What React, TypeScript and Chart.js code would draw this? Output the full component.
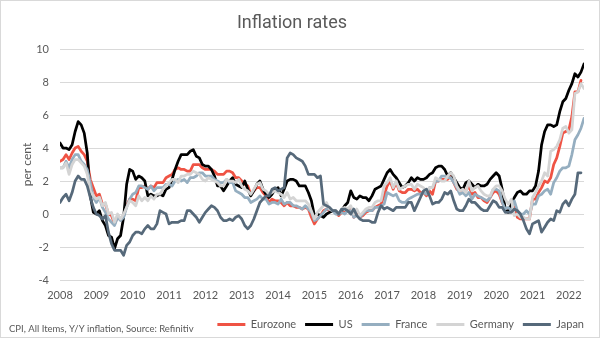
import React, { useEffect, useRef } from "react";
import { Chart, registerables } from "chart.js";

Chart.register(...registerables);

// ---- Data (monthly, Jan 2008 onwards) ----
const yearLabels = ["2008", "2009", "2010", "2011", "2012", "2013", "2014", "2015", "2016", "2017", "2018", "2019", "2020", "2021", "2022"];
const seriesNames = ["Eurozone", "US", "France", "Germany", "Japan"];
const footerText = "CPI, All Items, Y/Y inflation, Source: Refinitiv";

const eurozone = [
  3.2, 3.3, 3.6, 3.3, 3.7, 4.0, 4.1, 3.8, 3.6, 3.2, 2.1, 1.6,
  1.1, 1.2, 0.6, 0.6, 0.0, -0.1, -0.6, -0.2, -0.3, -0.1, 0.5, 0.9,
  0.9, 0.8, 1.6, 1.6, 1.7, 1.5, 1.7, 1.6, 1.9, 1.9, 1.9, 2.2,
  2.3, 2.4, 2.7, 2.8, 2.7, 2.7, 2.6, 2.6, 3.0, 3.0, 3.0, 2.8,
  2.7, 2.7, 2.7, 2.6, 2.4, 2.4, 2.4, 2.6, 2.6, 2.5, 2.2, 2.2,
  2.0, 1.8, 1.7, 1.2, 1.4, 1.6, 1.6, 1.3, 1.1, 0.7, 0.9, 0.8,
  0.8, 0.7, 0.5, 0.7, 0.5, 0.5, 0.4, 0.4, 0.3, 0.4, 0.3, -0.2,
  -0.6, -0.3, -0.1, 0.2, 0.3, 0.2, 0.2, 0.1, -0.1, 0.1, 0.1, 0.2,
  0.3, -0.2, 0.0, -0.2, -0.1, 0.1, 0.2, 0.2, 0.4, 0.5, 0.6, 1.1,
  1.7, 2.0, 1.5, 1.9, 1.4, 1.3, 1.3, 1.5, 1.5, 1.4, 1.5, 1.3,
  1.3, 1.1, 1.4, 1.2, 2.0, 2.0, 2.1, 2.1, 2.1, 2.3, 1.9, 1.5,
  1.4, 1.5, 1.4, 1.7, 1.2, 1.3, 1.0, 1.0, 0.8, 0.7, 1.0, 1.3,
  1.4, 1.2, 0.7, 0.3, 0.1, 0.3, 0.4, -0.2, -0.3, -0.3, -0.3, -0.3,
  0.9, 0.9, 1.3, 1.6, 2.0, 1.9, 2.2, 3.0, 3.4, 4.1, 4.9, 5.0,
  5.1, 5.9, 7.4, 7.4, 8.1,
];

const us = [
  4.3, 4.0, 4.0, 3.9, 4.2, 5.0, 5.6, 5.4, 4.9, 3.7, 1.1, 0.1,
  0.0, 0.2, -0.4, -0.7, -1.3, -1.4, -2.1, -1.5, -1.3, -0.2, 1.8, 2.7,
  2.6, 2.1, 2.3, 2.2, 2.0, 1.1, 1.2, 1.1, 1.1, 1.2, 1.1, 1.5,
  1.6, 2.1, 2.7, 3.2, 3.6, 3.6, 3.6, 3.8, 3.9, 3.5, 3.4, 3.0,
  2.9, 2.9, 2.7, 2.3, 1.7, 1.7, 1.4, 1.7, 2.0, 2.2, 1.8, 1.7,
  1.6, 2.0, 1.5, 1.1, 1.4, 1.8, 2.0, 1.5, 1.2, 1.0, 1.2, 1.5,
  1.6, 1.1, 1.5, 2.0, 2.1, 2.1, 2.0, 1.7, 1.7, 1.7, 1.3, 0.8,
  -0.1, 0.0, -0.1, -0.2, 0.0, 0.1, 0.2, 0.2, 0.0, 0.2, 0.5, 0.7,
  1.4, 1.0, 0.9, 1.1, 1.0, 1.0, 0.8, 1.1, 1.5, 1.6, 1.7, 2.1,
  2.5, 2.7, 2.4, 2.2, 1.9, 1.6, 1.7, 1.9, 2.2, 2.0, 2.2, 2.1,
  2.1, 2.2, 2.4, 2.5, 2.8, 2.9, 2.9, 2.7, 2.3, 2.5, 2.2, 1.9,
  1.6, 1.5, 1.9, 2.0, 1.8, 1.6, 1.8, 1.7, 1.7, 1.8, 2.1, 2.3,
  2.5, 2.3, 1.5, 0.3, 0.1, 0.6, 1.0, 1.3, 1.4, 1.2, 1.2, 1.4,
  1.4, 1.7, 2.6, 4.2, 5.0, 5.4, 5.4, 5.3, 5.4, 6.2, 6.8, 7.0,
  7.5, 7.9, 8.5, 8.3, 8.6, 9.1,
];

const france = [
  2.8, 2.8, 3.2, 2.8, 3.3, 3.6, 3.6, 3.2, 3.0, 2.7, 1.9, 1.0,
  0.7, 1.0, 0.4, 0.1, -0.3, -0.5, -0.7, -0.2, -0.4, -0.2, 0.4, 0.9,
  1.2, 1.3, 1.7, 1.7, 1.6, 1.5, 1.7, 1.4, 1.6, 1.6, 1.6, 1.8,
  1.8, 1.7, 2.0, 2.1, 2.0, 2.1, 1.9, 2.2, 2.2, 2.3, 2.5, 2.5,
  2.3, 2.3, 2.3, 2.1, 2.0, 1.9, 1.9, 2.1, 1.9, 1.9, 1.4, 1.3,
  1.2, 1.0, 1.0, 0.7, 0.8, 0.9, 1.1, 0.9, 0.9, 0.6, 0.7, 0.7,
  0.6, 0.9, 0.6, 0.7, 0.7, 0.5, 0.5, 0.4, 0.3, 0.5, 0.3, 0.1,
  -0.4, -0.3, -0.1, 0.1, 0.3, 0.3, 0.2, 0.0, 0.0, 0.1, 0.0, 0.2,
  0.2, -0.2, -0.1, -0.2, 0.0, 0.2, 0.2, 0.2, 0.4, 0.4, 0.5, 0.6,
  1.3, 1.2, 1.1, 1.2, 0.8, 0.7, 0.7, 0.9, 1.0, 1.1, 1.2, 1.2,
  1.3, 1.2, 1.6, 1.6, 2.0, 2.0, 2.3, 2.3, 2.2, 2.2, 1.9, 1.6,
  1.2, 1.3, 1.1, 1.3, 0.9, 1.2, 1.1, 1.0, 0.9, 0.8, 1.0, 1.5,
  1.5, 1.4, 0.7, 0.3, 0.4, 0.2, 0.8, 0.2, 0.0, 0.0, 0.2, 0.0,
  0.6, 0.6, 1.1, 1.2, 1.4, 1.5, 1.2, 1.9, 2.2, 2.6, 2.8, 2.8,
  2.9, 3.6, 4.5, 4.8, 5.2, 5.8,
];

const germany = [
  2.8, 2.8, 3.1, 2.4, 3.0, 3.3, 3.3, 3.1, 2.9, 2.4, 1.4, 1.1,
  0.9, 1.0, 0.5, 0.7, 0.0, 0.1, -0.5, 0.0, -0.3, 0.0, 0.4, 0.8,
  0.7, 0.5, 1.1, 0.8, 1.0, 0.8, 1.1, 0.9, 1.2, 1.2, 1.5, 1.7,
  1.9, 2.1, 2.1, 1.9, 2.3, 2.3, 2.4, 2.4, 2.6, 2.5, 2.4, 2.1,
  2.0, 2.2, 2.1, 2.0, 1.9, 1.7, 1.7, 2.1, 2.0, 2.0, 1.9, 2.1,
  1.7, 1.5, 1.4, 1.2, 1.5, 1.8, 1.9, 1.5, 1.4, 1.2, 1.3, 1.4,
  1.3, 1.2, 1.0, 1.3, 0.9, 1.0, 0.8, 0.8, 0.8, 0.8, 0.6, 0.2,
  -0.3, 0.1, 0.3, 0.5, 0.7, 0.3, 0.2, 0.2, 0.0, 0.3, 0.4, 0.3,
  0.5, 0.0, 0.3, -0.1, 0.1, 0.3, 0.4, 0.4, 0.7, 0.8, 0.8, 1.7,
  1.9, 2.2, 1.6, 2.0, 1.5, 1.6, 1.7, 1.8, 1.8, 1.5, 1.8, 1.7,
  1.6, 1.4, 1.6, 1.6, 2.2, 2.1, 2.0, 2.0, 2.3, 2.5, 2.3, 1.7,
  1.4, 1.5, 1.3, 2.0, 1.4, 1.6, 1.7, 1.4, 1.2, 1.1, 1.1, 1.5,
  1.7, 1.7, 1.4, 0.9, 0.6, 0.9, -0.1, 0.0, -0.2, -0.2, -0.3, -0.3,
  1.0, 1.3, 1.7, 2.0, 2.5, 2.3, 3.8, 3.9, 4.1, 4.5, 5.2, 5.3,
  4.9, 5.1, 7.3, 7.4, 7.9, 7.6,
];

const japan = [
  0.7, 1.0, 1.2, 0.8, 1.3, 2.0, 2.3, 2.1, 2.1, 1.7, 1.0, 0.4,
  0.0, -0.1, -0.3, -0.1, -1.1, -1.8, -2.2, -2.2, -2.2, -2.5, -1.9, -1.7,
  -1.3, -1.1, -1.1, -1.2, -0.9, -0.7, -0.9, -0.9, -0.6, 0.2, 0.1, 0.0,
  -0.6, -0.5, -0.5, -0.5, -0.4, -0.4, 0.2, 0.2, 0.0, -0.2, -0.5, -0.2,
  0.1, 0.3, 0.5, 0.4, 0.2, -0.2, -0.4, -0.4, -0.3, -0.4, -0.2, -0.1,
  -0.3, -0.7, -0.9, -0.7, -0.3, 0.2, 0.7, 0.9, 1.1, 1.1, 1.5, 1.6,
  1.4, 1.5, 1.6, 3.4, 3.7, 3.6, 3.4, 3.3, 3.2, 2.9, 2.4, 2.4,
  2.4, 2.2, 2.3, 0.6, 0.5, 0.4, 0.2, 0.2, 0.0, 0.3, 0.3, 0.2,
  0.0, 0.3, -0.1, -0.3, -0.4, -0.4, -0.4, -0.5, -0.5, 0.1, 0.5, 0.3,
  0.4, 0.3, 0.2, 0.4, 0.4, 0.4, 0.4, 0.7, 0.7, 0.2, 0.6, 1.0,
  1.4, 1.5, 1.1, 0.6, 0.7, 0.7, 0.9, 1.3, 1.2, 1.4, 0.8, 0.3,
  0.2, 0.2, 0.5, 0.9, 0.7, 0.7, 0.5, 0.3, 0.2, 0.2, 0.5, 0.8,
  0.7, 0.4, 0.4, 0.1, 0.1, 0.1, 0.3, 0.2, 0.0, -0.4, -0.9, -1.2,
  -0.6, -0.5, -0.4, -1.1, -0.8, -0.5, -0.3, -0.4, 0.2, 0.1, 0.6, 0.8,
  0.5, 0.9, 1.2, 2.5, 2.5,
];

const seriesValues = [eurozone, us, france, germany, japan];
const seriesColors = ["#EF5344", "#000000", "#95AEC0", "#D4D4D4", "#56697A"];

const TEXT = "#595959";

export default function App() {
  const canvasRef = useRef<HTMLCanvasElement | null>(null);

  useEffect(() => {
    document.body.style.margin = "0";
    const canvas = canvasRef.current;
    if (!canvas) return;

    const framePlugin = {
      id: "frame",
      beforeDraw(chart: any) {
        const { ctx, width, height } = chart;
        ctx.save();
        ctx.fillStyle = "#ffffff";
        ctx.fillRect(0, 0, width, height);
        ctx.restore();
      },
      afterLayout(chart: any) {
        const lg = chart.legend;
        if (lg) {
          lg.left += 9;
          lg.right += 9;
          lg.top += 2;
          lg.bottom += 2;
        }
      },
      afterDraw(chart: any) {
        const { ctx, width, height } = chart;
        ctx.save();
        ctx.strokeStyle = "#D9D9D9";
        ctx.lineWidth = 1;
        ctx.strokeRect(0.5, 0.5, width - 1, height - 1);
        ctx.fillStyle = TEXT;
        ctx.font = "9.5px Lato";
        ctx.textBaseline = "middle";
        ctx.textAlign = "left";
        ctx.fillText(footerText, 9, 329);
        ctx.restore();
      },
    };

    const chart = new Chart(canvas, {
      type: "line",
      data: {
        datasets: seriesNames.map((name, k) => ({
          label: name,
          data: seriesValues[k].map((v, i) => ({ x: i, y: v })),
          borderColor: seriesColors[k],
          backgroundColor: seriesColors[k],
          borderWidth: 2.75,
          pointRadius: 0,
          tension: 0,
          borderJoinStyle: "round",
          borderCapStyle: "round",
          order: seriesNames.length - k,
        })),
      },
      options: {
        animation: false,
        responsive: false,
        events: [],
        layout: { padding: { left: 0, right: 16, top: 0, bottom: 0 } },
        font: { family: "Lato" },
        plugins: {
          tooltip: { enabled: false },
          title: {
            display: true,
            text: "Inflation rates",
            color: TEXT,
            font: { family: "Roboto", size: 18, weight: "normal" },
            padding: { top: 13, bottom: 14.4 },
          },
          legend: {
            display: true,
            position: "bottom",
            align: "end",
            labels: {
              color: TEXT,
              font: { family: "Lato", size: 11 },
              boxWidth: 28,
              boxHeight: 3,
              padding: 9,
              sort: (a: any, b: any) => a.datasetIndex - b.datasetIndex,
              generateLabels: (ch: any) =>
                (Chart.defaults.plugins.legend.labels as any)
                  .generateLabels(ch)
                  .map((it: any) => ({ ...it, fillStyle: it.strokeStyle, lineWidth: 0 })),
            },
          },
        },
        scales: {
          x: {
            type: "linear",
            min: 0,
            max: 173,
            grid: { display: false, drawTicks: false },
            border: { display: false },
            afterBuildTicks: (scale: any) => {
              scale.ticks = yearLabels.map((_, i) => ({ value: i * 12 }));
            },
            afterFit: (scale: any) => {
              scale.height = 28;
            },
            ticks: {
              autoSkip: false,
              maxRotation: 0,
              padding: 9,
              color: TEXT,
              font: { family: "Lato", size: 11 },
              callback: (v: any) => yearLabels[Math.round(Number(v) / 12)],
            },
          },
          y: {
            min: -4,
            max: 10,
            grid: { color: "#D9D9D9", lineWidth: 1, drawTicks: false },
            border: { display: false },
            afterFit: (scale: any) => {
              scale.width = 60;
            },
            ticks: {
              stepSize: 2,
              padding: 11,
              color: TEXT,
              font: { family: "Lato", size: 11 },
            },
            title: {
              display: true,
              text: "per cent",
              color: TEXT,
              font: { family: "Lato", size: 12 },
              padding: { top: 20, bottom: 0 },
            },
          },
        },
      },
      plugins: [framePlugin],
    } as any);

    return () => chart.destroy();
  }, []);

  return (
    <div style={{ width: 600, height: 338 }}>
      <canvas ref={canvasRef} width={600} height={338} style={{ display: "block" }} />
    </div>
  );
}
